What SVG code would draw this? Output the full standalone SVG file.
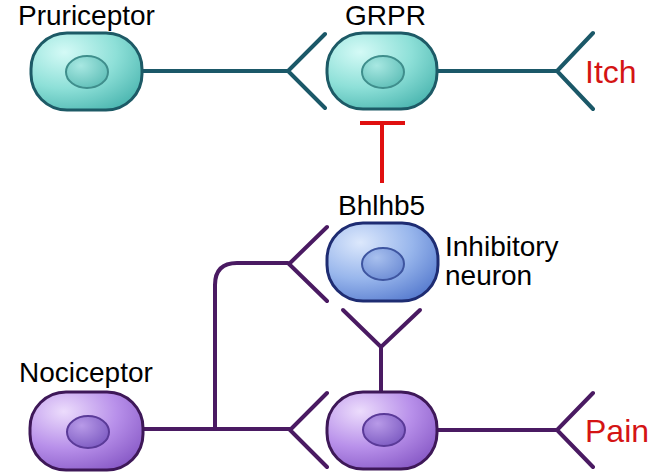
<svg xmlns="http://www.w3.org/2000/svg" width="661" height="472" viewBox="0 0 661 472">
<defs>
<radialGradient id="gTeal" cx="0.3" cy="0.25" r="0.85">
<stop offset="0" stop-color="#d4faf6"/>
<stop offset="0.55" stop-color="#8ee0d8"/>
<stop offset="1" stop-color="#4fb8b2"/>
</radialGradient>
<radialGradient id="gTealN" cx="0.35" cy="0.3" r="0.8">
<stop offset="0" stop-color="#a8e8e2"/>
<stop offset="1" stop-color="#5cbdb6"/>
</radialGradient>
<radialGradient id="gBlue" cx="0.3" cy="0.25" r="0.85">
<stop offset="0" stop-color="#dce8fc"/>
<stop offset="0.55" stop-color="#98b6ec"/>
<stop offset="1" stop-color="#5a7ed0"/>
</radialGradient>
<radialGradient id="gBlueN" cx="0.35" cy="0.3" r="0.8">
<stop offset="0" stop-color="#a8c0ee"/>
<stop offset="1" stop-color="#6a8ad4"/>
</radialGradient>
<radialGradient id="gPurple" cx="0.3" cy="0.25" r="0.85">
<stop offset="0" stop-color="#ecdcfc"/>
<stop offset="0.55" stop-color="#b890ea"/>
<stop offset="1" stop-color="#8a5cc8"/>
</radialGradient>
<radialGradient id="gPurpleN" cx="0.35" cy="0.3" r="0.8">
<stop offset="0" stop-color="#b89ae8"/>
<stop offset="1" stop-color="#7a58c0"/>
</radialGradient>
</defs>
<style>
.lbl{font-family:"Liberation Sans",Arial,sans-serif;font-size:28px;fill:#000}
.out{font-family:"Liberation Sans",Arial,sans-serif;font-size:32px;fill:#d41414}
.teal{fill:none;stroke:#1b5868;stroke-width:4;stroke-linecap:round;stroke-linejoin:miter}
.purp{fill:none;stroke:#4a1a62;stroke-width:4;stroke-linecap:round;stroke-linejoin:miter}
.red{fill:none;stroke:#e01010;stroke-width:4}
.cT{fill:url(#gTeal);stroke:#1d5a66;stroke-width:3}
.nT{fill:url(#gTealN);stroke:#3f8e8c;stroke-width:2}
.cB{fill:url(#gBlue);stroke:#1e2c72;stroke-width:3}
.nB{fill:url(#gBlueN);stroke:#3e55a0;stroke-width:2}
.cP{fill:url(#gPurple);stroke:#3e1858;stroke-width:3}
.nP{fill:url(#gPurpleN);stroke:#5a3a98;stroke-width:2}
</style>
<g id="connectors">
<path class="teal" d="M142 71 H288 M325 34 L288 71 L325 108"/>
<path class="teal" d="M437 71 H557 M593 33 L557 71 L593 109"/>
<path class="red" d="M360 123 H405 M382 123 V183"/>
<path class="purp" d="M143 429 H290 M327 393 L290 430 L327 467"/>
<path class="purp" d="M215 429 V285 Q215 263 237 263 H288 M327 227 L289 264 L327 301"/>
<path class="purp" d="M343 310 L381 347 L420 310 M381 347 V392"/>
<path class="purp" d="M437 430 H557 M593 393 L557 430 L593 467"/>
</g>
<g id="pruriceptor">
<rect class="cT" x="31" y="33" width="111" height="77" rx="36" ry="36"/>
<ellipse class="nT" cx="87" cy="72" rx="21" ry="16"/>
<text class="lbl" x="18" y="25">Pruriceptor</text>
</g>
<g id="grpr">
<rect class="cT" x="327" y="33" width="110" height="76" rx="36" ry="36"/>
<ellipse class="nT" cx="383" cy="72" rx="21" ry="16"/>
<text class="lbl" x="345" y="25">GRPR</text>
</g>
<g id="itch">
<text class="out" x="585" y="83">Itch</text>
</g>
<g id="bhlhb5">
<rect class="cB" x="327" y="223" width="111" height="78" rx="36" ry="36"/>
<ellipse class="nB" cx="383" cy="264" rx="21" ry="16"/>
<text class="lbl" x="338" y="215">Bhlhb5</text>
<text class="lbl" x="445" y="256">Inhibitory</text>
<text class="lbl" x="445" y="285">neuron</text>
</g>
<g id="nociceptor">
<rect class="cP" x="30" y="392" width="113" height="78" rx="36" ry="36"/>
<ellipse class="nP" cx="88" cy="432" rx="21" ry="16"/>
<text class="lbl" x="19" y="382">Nociceptor</text>
</g>
<g id="pain-neuron">
<rect class="cP" x="327" y="392" width="110" height="77" rx="36" ry="36"/>
<ellipse class="nP" cx="384" cy="430" rx="21" ry="16"/>
</g>
<g id="pain">
<text class="out" x="585" y="442">Pain</text>
</g>
</svg>
